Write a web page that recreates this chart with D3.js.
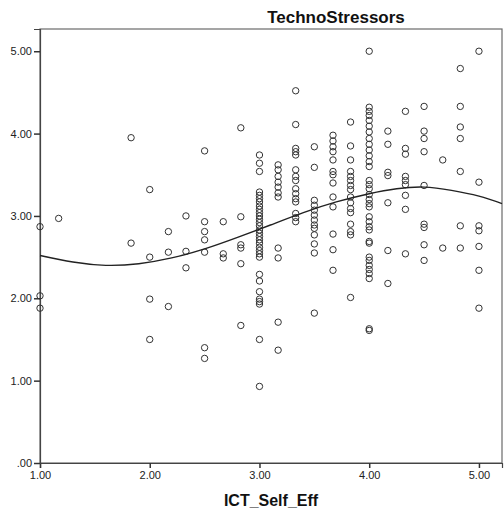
<!DOCTYPE html>
<html>
<head>
<meta charset="utf-8">
<script src="https://cdn.jsdelivr.net/npm/d3@7"></script>
<style>
    body { margin: 0; background: #ffffff; }
</style>
</head>
<body>
<script>
// 散点数据：每列 x 值对应的 y 值
const xLevels = [1.00, 1.17, 1.83, 2.00, 2.17, 2.33, 2.50, 2.67, 2.83, 3.00, 3.17, 3.33,
    3.50, 3.67, 3.83, 4.00, 4.17, 4.33, 4.50, 4.67, 4.83, 5.00];
const yByLevel = [
    [2.87, 2.03, 1.88],
    [2.97],
    [3.95, 2.67],
    [3.32, 2.50, 1.99, 1.50],
    [2.81, 2.56, 1.90],
    [3.00, 2.57, 2.37],
    [3.79, 2.93, 2.81, 2.71, 2.56, 1.40, 1.27],
    [2.93, 2.54, 2.49],
    [4.07, 2.99, 2.65, 2.61, 2.42, 1.67],
    [3.74, 3.64, 3.54, 3.29, 3.25, 3.21, 3.17, 3.12, 3.08, 3.04, 3.00, 2.96, 2.92, 2.88, 2.83,
        2.79, 2.75, 2.71, 2.67, 2.62, 2.58, 2.54, 2.50, 2.29, 2.21, 2.08, 1.99, 1.96, 1.93, 1.50, 0.93],
    [3.62, 3.56, 3.48, 3.41, 3.35, 3.28, 3.23, 2.61, 2.49, 1.71, 1.37],
    [4.52, 4.11, 3.82, 3.78, 3.74, 3.56, 3.48, 3.43, 3.33, 3.27, 3.21, 3.17, 3.03, 2.98, 2.93],
    [3.84, 3.59, 3.19, 3.13, 3.07, 3.01, 2.95, 2.89, 2.85, 2.77, 2.66, 2.55, 1.82],
    [3.98, 3.91, 3.84, 3.78, 3.68, 3.54, 3.50, 3.40, 3.23, 3.11, 2.78, 2.59, 2.34],
    [4.14, 3.85, 3.68, 3.54, 3.48, 3.43, 3.37, 3.32, 3.23, 3.16, 3.09, 3.04, 2.90, 2.81, 2.77, 2.01],
    [5.00, 4.32, 4.27, 4.22, 4.16, 4.09, 4.02, 3.94, 3.87, 3.80, 3.73, 3.66, 3.60, 3.43, 3.38, 3.33,
        3.26, 3.20, 3.15, 3.11, 2.99, 2.93, 2.87, 2.83, 2.69, 2.67, 2.50, 2.46, 2.40, 2.35, 2.30, 2.24, 1.63, 1.61],
    [4.03, 3.87, 3.53, 3.49, 3.16, 2.58, 2.18],
    [4.27, 3.82, 3.75, 3.48, 3.43, 3.38, 3.25, 3.08, 2.54],
    [4.33, 4.03, 3.94, 3.78, 3.37, 2.90, 2.86, 2.65, 2.46],
    [3.68, 2.61],
    [4.79, 4.33, 4.08, 3.94, 3.54, 2.88, 2.61],
    [5.00, 3.41, 2.88, 2.82, 2.63, 2.34, 1.88]
];

// 拟合曲线（从图上读取的点）
const fitX = [1.00, 1.30, 1.60, 1.90, 2.20, 2.50, 2.80, 3.10, 3.40, 3.70, 4.00, 4.25, 4.50, 4.75, 5.00, 5.21];
const fitY = [2.52, 2.44, 2.40, 2.42, 2.49, 2.60, 2.74, 2.89, 3.04, 3.17, 3.27, 3.33, 3.35, 3.31, 3.24, 3.15];

// 刻度
const xTicks = [1, 2, 3, 4, 5];
const yTicks = [0, 1, 2, 3, 4, 5];
const xTickLabels = ['1.00', '2.00', '3.00', '4.00', '5.00'];
const yTickLabels = ['.00', '1.00', '2.00', '3.00', '4.00', '5.00'];
const titleText = 'TechnoStressors';
const xLabelText = 'ICT_Self_Eff';

const renderParams = {
    svgWidth: 504,
    svgHeight: 515,
    left: 40,
    right: 502,
    top: 29,
    bottom: 463
};

const renderChart = (params) => {
    let {svgWidth, svgHeight, left, right, top, bottom} = params;
    const font = 'Liberation Sans, Arial, sans-serif';

    let svg = d3.select('body')
        .append('svg')
        .attr('width', svgWidth)
        .attr('height', svgHeight);

    let x = d3.scaleLinear().domain([1, 5.21]).range([left, right]);
    let y = d3.scaleLinear().domain([0, 5.27]).range([bottom, top]);

    // 图框
    svg.append('rect')
        .attr('x', left)
        .attr('y', top)
        .attr('width', right - left)
        .attr('height', bottom - top)
        .attr('fill', 'none')
        .attr('stroke', '#6a6a6a')
        .attr('stroke-width', 1.2);

    // x 轴
    let xAxis = svg.append('g')
        .attr('transform', `translate(0,${bottom})`)
        .call(d3.axisBottom(x).tickValues(xTicks).tickSize(5).tickPadding(3)
            .tickFormat((d, i) => xTickLabels[i]));
    // y 轴
    let yAxis = svg.append('g')
        .attr('transform', `translate(${left},0)`)
        .call(d3.axisLeft(y).tickValues(yTicks).tickSize(6).tickPadding(2)
            .tickFormat((d, i) => yTickLabels[i]));

    [xAxis, yAxis].forEach(ax => {
        ax.select('.domain').attr('stroke', '#444').attr('stroke-width', 1.2);
        ax.selectAll('.tick line').attr('stroke', '#333').attr('stroke-width', 1.5);
        ax.selectAll('.tick text')
            .attr('fill', '#222')
            .style('font-family', font)
            .style('font-size', '11px');
    });

    // 散点
    let points = [];
    xLevels.forEach((xv, i) => {
        yByLevel[i].forEach(yv => points.push({x: xv, y: yv}));
    });
    svg.append('g')
        .selectAll('circle')
        .data(points)
        .enter()
        .append('circle')
        .attr('cx', d => x(d.x))
        .attr('cy', d => y(d.y))
        .attr('r', 3.2)
        .attr('fill', 'none')
        .attr('stroke', '#333')
        .attr('stroke-width', 1);

    // 拟合曲线
    let line = d3.line()
        .x(d => x(d[0]))
        .y(d => y(d[1]))
        .curve(d3.curveNatural);
    svg.append('path')
        .datum(fitX.map((v, i) => [v, fitY[i]]))
        .attr('d', line)
        .attr('fill', 'none')
        .attr('stroke', '#222')
        .attr('stroke-width', 1.4);

    // 标题与轴标题
    svg.append('text')
        .attr('x', 336)
        .attr('y', 23)
        .attr('text-anchor', 'middle')
        .style('font-family', font)
        .style('font-size', '17px')
        .style('font-weight', 'bold')
        .attr('fill', '#111')
        .text(titleText);
    svg.append('text')
        .attr('x', 271)
        .attr('y', 506)
        .attr('text-anchor', 'middle')
        .style('font-family', font)
        .style('font-size', '16px')
        .style('font-weight', 'bold')
        .attr('fill', '#111')
        .text(xLabelText);
};

renderChart(renderParams);
</script>
</body>
</html>
